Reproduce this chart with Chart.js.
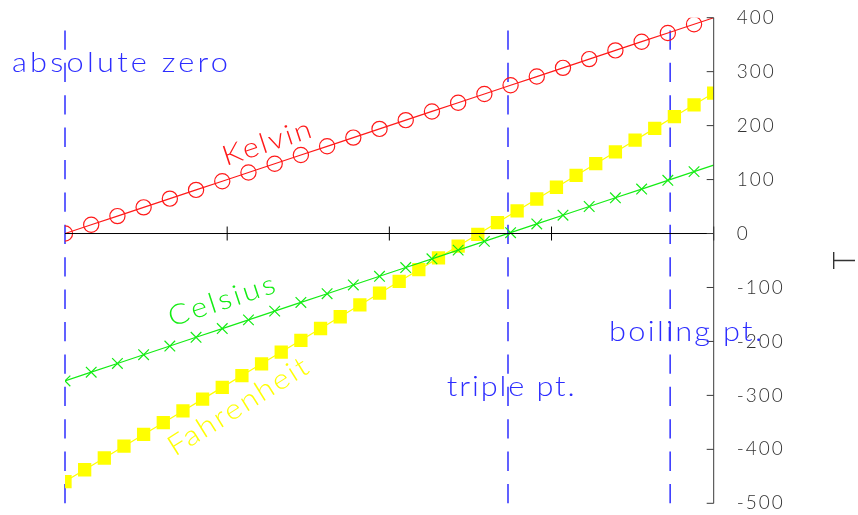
<!DOCTYPE html>
<html>
<head>
<meta charset="utf-8">
<title>Temperature scales</title>
<script src="https://cdn.jsdelivr.net/npm/chart.js@4.4.1/dist/chart.umd.min.js"></script>
<style>
  html, body { margin: 0; padding: 0; background: #fff; }
  canvas { display: block; }
</style>
</head>
<body>
<canvas id="tempChart" width="858" height="515"></canvas>
<script>
// Temperature T (kelvin) at the Kelvin / Celsius sample points
const kelvinX = [0, 16.16, 32.32, 48.48, 64.65, 80.81, 96.97, 113.13, 129.29, 145.45, 161.62, 177.78, 193.94,
  210.10, 226.26, 242.42, 258.59, 274.75, 290.91, 307.07, 323.23, 339.39, 355.56, 371.72, 387.88, 400];
const kelvinY = [0, 16.16, 32.32, 48.48, 64.65, 80.81, 96.97, 113.13, 129.29, 145.45, 161.62, 177.78, 193.94,
  210.10, 226.26, 242.42, 258.59, 274.75, 290.91, 307.07, 323.23, 339.39, 355.56, 371.72, 387.88, 400];
const celsiusY = [-273.15, -256.99, -240.83, -224.67, -208.50, -192.34, -176.18, -160.02, -143.86, -127.70,
  -111.53, -95.37, -79.21, -63.05, -46.89, -30.73, -14.56, 1.60, 17.76, 33.92, 50.08, 66.24, 82.41, 98.57,
  114.73, 126.85];

// Fahrenheit is sampled a bit denser
const fahrenheitX = [0, 12.12, 24.24, 36.36, 48.48, 60.61, 72.73, 84.85, 96.97, 109.09, 121.21, 133.33, 145.45,
  157.58, 169.70, 181.82, 193.94, 206.06, 218.18, 230.30, 242.42, 254.55, 266.67, 278.79, 290.91, 303.03,
  315.15, 327.27, 339.39, 351.52, 363.64, 375.76, 387.88, 400];
const fahrenheitY = [-459.67, -437.85, -416.03, -394.22, -372.40, -350.58, -328.76, -306.94, -285.12, -263.31,
  -241.49, -219.67, -197.85, -176.03, -154.22, -132.40, -110.58, -88.76, -66.94, -45.13, -23.31, -1.49, 20.33,
  42.15, 63.97, 85.78, 107.60, 129.42, 151.24, 173.06, 194.88, 216.69, 238.51, 260.33];

// fixed points of water and absolute zero
const refX = [0, 273.16, 373.15];
const refNames = ['absolute zero', 'triple pt.', 'boiling pt.'];

const xTicks = [100, 200, 300, 400];
const yTicks = [400, 300, 200, 100, 0, -100, -200, -300, -400, -500];
const xRange = [0, 400];
const yRange = [-500, 400];

const FONT = 'Lato, "DejaVu Sans", sans-serif';
const BLUE = 'rgb(45,45,255)';
const RED = '#ff1a1a';
const GREEN = '#14ec14';
const YELLOW = '#ffff00';

const pts = (xs, ys) => xs.map((x, i) => ({ x: x, y: ys[i] }));

// the last sample only closes the line, it has no marker
const markerRadius = (xs, r) => xs.map((x, i) => (i < xs.length - 1 ? r : 0));

const datasets = [
  {
    label: 'Kelvin',
    data: pts(kelvinX, kelvinY),
    borderColor: RED,
    borderWidth: 1.2,
    pointStyle: 'circle',
    pointRadius: markerRadius(kelvinX, 7.6),
    pointBorderColor: RED,
    pointBackgroundColor: 'rgba(0,0,0,0)',
    pointBorderWidth: 1.2
  },
  {
    label: 'Celsius',
    data: pts(kelvinX, celsiusY),
    borderColor: GREEN,
    borderWidth: 1.2,
    pointStyle: 'crossRot',
    pointRadius: markerRadius(kelvinX, 7.5),
    pointBorderColor: GREEN,
    pointBorderWidth: 1.2
  },
  {
    label: 'Fahrenheit',
    data: pts(fahrenheitX, fahrenheitY),
    borderColor: YELLOW,
    borderWidth: 1.2,
    pointStyle: 'rect',
    pointRadius: 9.4,
    pointBackgroundColor: YELLOW,
    pointBorderColor: YELLOW,
    pointBorderWidth: 0
  }
];

refX.forEach((x, i) => {
  datasets.push({
    label: refNames[i],
    data: [{ x: x, y: yRange[0] }, { x: x, y: yRange[1] }],
    borderColor: BLUE,
    borderWidth: 1.5,
    borderDash: [19.3, 13.1],
    pointRadius: 0,
    clip: 2
  });
});

datasets.forEach(ds => {
  ds.showLine = true;
  ds.tension = 0;
  if (ds.clip === undefined) ds.clip = 0;
});

// text placed in data coordinates
const notes = [
  { text: refNames[0], x: -32.7, y: 300, angle: 0, color: BLUE, width: 216 },
  { text: refNames[1], x: 235.4, y: -300.6, angle: 0, color: BLUE, width: 128 },
  { text: refNames[2], x: 335.5, y: -198.7, angle: 0, color: BLUE, width: 153 },
  { text: 'Kelvin', x: 99.3, y: 125.1, angle: -18.4, color: RED, width: 92 },
  { text: 'Celsius', x: 65.8, y: -172.7, angle: -18.2, color: GREEN, width: 111 },
  { text: 'Fahrenheit', x: 67.8, y: -413.7, angle: -32, color: YELLOW, width: 160 }
];

// stroke-font look: slightly widened glyphs, spacing filled up to the wanted width
function spacedText(ctx, text, px, py, width, stretch) {
  ctx.save();
  ctx.translate(px, py);
  ctx.scale(stretch, 1);
  ctx.letterSpacing = '0px';
  const natural = ctx.measureText(text).width;
  const ls = (width / stretch - natural) / Math.max(text.length - 1, 1);
  ctx.letterSpacing = ls.toFixed(2) + 'px';
  ctx.fillText(text, 0, 0);
  ctx.restore();
}

const axesAndNotes = {
  id: 'axesAndNotes',
  afterDatasetsDraw(chart) {
    const { ctx, chartArea, scales } = chart;
    const x = scales.x, y = scales.y;
    ctx.save();

    // horizontal axis at T = 0 with ticks through it
    const y0 = y.getPixelForValue(0);
    ctx.strokeStyle = '#000';
    ctx.lineWidth = 1;
    ctx.beginPath();
    ctx.moveTo(chartArea.left, y0);
    ctx.lineTo(chartArea.right, y0);
    xTicks.forEach(v => {
      const px = x.getPixelForValue(v);
      ctx.moveTo(px, y0 - 7);
      ctx.lineTo(px, y0 + 7);
    });
    ctx.stroke();

    // right-hand value axis, ticks pointing inward
    ctx.strokeStyle = '#3a3a3a';
    ctx.beginPath();
    ctx.moveTo(chartArea.right, chartArea.top);
    ctx.lineTo(chartArea.right, chartArea.bottom);
    yTicks.forEach(v => {
      const py = y.getPixelForValue(v);
      ctx.moveTo(chartArea.right - 7, py);
      ctx.lineTo(chartArea.right, py);
    });
    ctx.stroke();

    ctx.fillStyle = '#333';
    ctx.font = '300 19px ' + FONT;
    ctx.textAlign = 'left';
    ctx.textBaseline = 'middle';
    ctx.letterSpacing = '2px';
    yTicks.forEach(v => ctx.fillText(String(v), chartArea.right + 23, y.getPixelForValue(v)));
    ctx.letterSpacing = '0px';

    // axis title, rotated
    ctx.save();
    ctx.translate(855, (chartArea.top + chartArea.bottom) / 2);
    ctx.rotate(-Math.PI / 2);
    ctx.textAlign = 'center';
    ctx.textBaseline = 'alphabetic';
    ctx.font = '300 31px ' + FONT;
    ctx.fillText('T', 0, 0);
    ctx.restore();

    // curve names and fixed point names
    ctx.font = '300 28px ' + FONT;
    ctx.textBaseline = 'alphabetic';
    notes.forEach(n => {
      ctx.save();
      ctx.translate(x.getPixelForValue(n.x), y.getPixelForValue(n.y));
      ctx.rotate(n.angle * Math.PI / 180);
      ctx.fillStyle = n.color;
      spacedText(ctx, n.text, 0, 0, n.width, 1.1);
      ctx.restore();
    });

    ctx.restore();
  }
};

new Chart(document.getElementById('tempChart'), {
  type: 'scatter',
  data: { datasets: datasets },
  options: {
    responsive: false,
    animation: false,
    devicePixelRatio: 1,
    layout: { padding: { left: 65, top: 17.7, right: 144.3, bottom: 11.7 } },
    scales: {
      x: { type: 'linear', min: xRange[0], max: xRange[1], display: false },
      y: { type: 'linear', min: yRange[0], max: yRange[1], display: false }
    },
    plugins: {
      legend: { display: false },
      tooltip: { enabled: false }
    },
    events: []
  },
  plugins: [axesAndNotes]
});
</script>
</body>
</html>
